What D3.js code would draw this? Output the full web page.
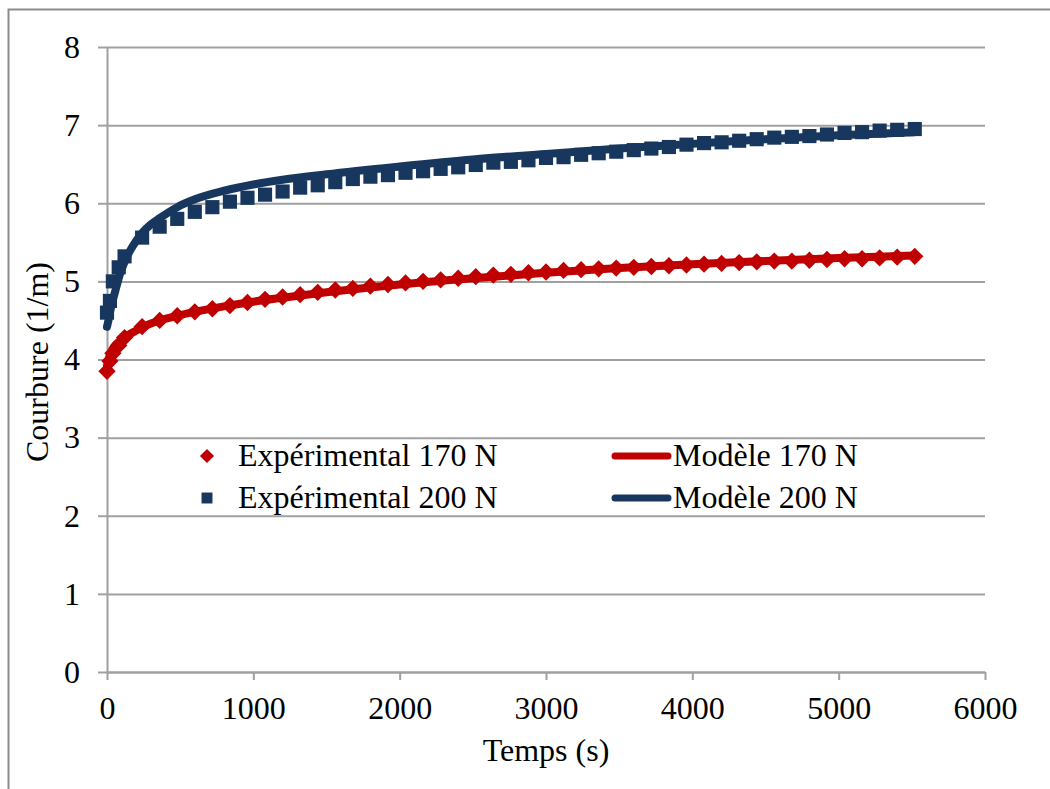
<!DOCTYPE html>
<html>
<head>
<meta charset="utf-8">
<script src="https://cdn.jsdelivr.net/npm/d3@7"></script>
<style>
  html, body { margin: 0; padding: 0; background: #fff; }
  svg { display: block; }
  text { font-family: "Liberation Serif", "Times New Roman", serif; fill: #000; }
</style>
</head>
<body>
<svg id="chart" width="1050" height="789"></svg>
<script>
// ---- data ----
const expTimes = [0, 20, 40, 80, 120, 240, 360, 480, 600, 720, 840, 960, 1080, 1200, 1320, 1440, 1560, 1680, 1800, 1920, 2040, 2160, 2280, 2400, 2520, 2640, 2760, 2880, 3000, 3120, 3240, 3360, 3480, 3600, 3720, 3840, 3960, 4080, 4200, 4320, 4440, 4560, 4680, 4800, 4920, 5040, 5160, 5280, 5400, 5520];
const exp170 = [3.85, 3.98, 4.08, 4.18, 4.28, 4.42, 4.50, 4.56, 4.61, 4.65, 4.69, 4.73, 4.77, 4.80, 4.83, 4.86, 4.89, 4.91, 4.94, 4.96, 4.98, 5.00, 5.02, 5.04, 5.06, 5.08, 5.09, 5.11, 5.12, 5.14, 5.15, 5.16, 5.17, 5.18, 5.19, 5.20, 5.21, 5.22, 5.23, 5.24, 5.25, 5.26, 5.26, 5.27, 5.28, 5.29, 5.29, 5.30, 5.31, 5.32];
const exp200 = [4.60, 4.75, 5.00, 5.18, 5.32, 5.56, 5.70, 5.80, 5.89, 5.95, 6.02, 6.07, 6.11, 6.15, 6.20, 6.23, 6.27, 6.31, 6.34, 6.36, 6.39, 6.41, 6.44, 6.46, 6.49, 6.52, 6.53, 6.55, 6.58, 6.59, 6.62, 6.64, 6.66, 6.68, 6.70, 6.72, 6.75, 6.77, 6.78, 6.80, 6.82, 6.84, 6.85, 6.86, 6.88, 6.90, 6.91, 6.93, 6.94, 6.95];
const modelTimes = [0, 10, 20, 40, 60, 90, 120, 160, 200, 240, 300, 360, 480, 600, 800, 1000, 1200, 1500, 2000, 2500, 3000, 3500, 4000, 4500, 5000, 5520];
const model170 = [3.92, 4.00, 4.06, 4.14, 4.19, 4.24, 4.28, 4.33, 4.37, 4.41, 4.46, 4.50, 4.56, 4.61, 4.68, 4.74, 4.79, 4.86, 4.96, 5.04, 5.11, 5.17, 5.22, 5.26, 5.30, 5.33];
const model200 = [4.42, 4.50, 4.60, 4.76, 4.90, 5.10, 5.25, 5.40, 5.52, 5.62, 5.73, 5.81, 5.95, 6.05, 6.16, 6.24, 6.30, 6.37, 6.47, 6.56, 6.63, 6.70, 6.76, 6.82, 6.87, 6.91];
const xTicks = [0, 1000, 2000, 3000, 4000, 5000, 6000];
const yTicks = [0, 1, 2, 3, 4, 5, 6, 7, 8];
const legendLabels = ["Expérimental 170 N", "Expérimental 200 N", "Modèle 170 N", "Modèle 200 N"];
const xTitle = "Temps (s)";
const yTitle = "Courbure (1/m)";

// ---- styles ----
const RED = "#C00000", BLUE = "#17375E", GRID = "#a0a0a0";
const FONT = 32;

const svg = d3.select("#chart");

// outer chart frame
svg.append("rect").attr("x", 8.5).attr("y", 9.5).attr("width", 1100).attr("height", 900)
  .attr("fill", "none").attr("stroke", "#8c8c8c").attr("stroke-width", 2);

const x = d3.scaleLinear().domain([0, 6000]).range([107, 985]);
const y = d3.scaleLinear().domain([0, 8]).range([672, 47]);

// gridlines
svg.append("g")
  .attr("transform", "translate(107,0)")
  .call(d3.axisLeft(y).tickValues(yTicks).tickSize(-878).tickFormat(""))
  .call(g => g.select(".domain").remove())
  .call(g => g.selectAll("line").attr("stroke", GRID).attr("stroke-width", 2));

// y axis
const yAxis = svg.append("g")
  .attr("transform", "translate(107,0)")
  .call(d3.axisLeft(y).tickValues(yTicks).tickSize(9).tickSizeOuter(0).tickPadding(18).tickFormat(d3.format("d")));
yAxis.select(".domain").attr("stroke", GRID).attr("stroke-width", 2);
yAxis.selectAll("line").attr("stroke", GRID).attr("stroke-width", 2);
yAxis.selectAll("text").style("font-size", FONT + "px").style("font-family", "Liberation Serif").attr("fill", "#000");

// x axis
const xAxis = svg.append("g")
  .attr("transform", "translate(0,672)")
  .call(d3.axisBottom(x).tickValues(xTicks).tickSize(8).tickSizeOuter(0).tickPadding(16).tickFormat(d3.format("d")));
xAxis.select(".domain").attr("stroke", GRID).attr("stroke-width", 2);
xAxis.selectAll("line").attr("stroke", GRID).attr("stroke-width", 2);
xAxis.selectAll("text").style("font-size", FONT + "px").style("font-family", "Liberation Serif").attr("fill", "#000");

// axis titles
svg.append("text").attr("x", 546).attr("y", 761).attr("text-anchor", "middle")
  .style("font-size", FONT + "px").text(xTitle);
svg.append("text").attr("transform", "translate(48,362) rotate(-90)").attr("text-anchor", "middle")
  .style("font-size", FONT + "px").text(yTitle);

// markers
const exp170Data = expTimes.map((t, i) => ({t, v: exp170[i]}));
const exp200Data = expTimes.map((t, i) => ({t, v: exp200[i]}));

svg.append("g").selectAll("path").data(exp170Data).join("path")
  .attr("d", d3.symbol().type(d3.symbolSquare).size(150))
  .attr("transform", d => `translate(${x(d.t)},${y(d.v)}) rotate(45)`)
  .attr("fill", RED);

svg.append("g").selectAll("path").data(exp200Data).join("path")
  .attr("d", d3.symbol().type(d3.symbolSquare).size(200))
  .attr("transform", d => `translate(${x(d.t)},${y(d.v)})`)
  .attr("fill", BLUE);

// model lines
const line = d3.line().x(d => x(d.t)).y(d => y(d.v)).curve(d3.curveMonotoneX);
const m170 = modelTimes.map((t, i) => ({t, v: model170[i]}));
const m200 = modelTimes.map((t, i) => ({t, v: model200[i]}));
svg.append("path").datum(m170).attr("d", line).attr("fill", "none")
  .attr("stroke", RED).attr("stroke-width", 8).attr("stroke-linecap", "round").attr("stroke-linejoin", "round");
svg.append("path").datum(m200).attr("d", line).attr("fill", "none")
  .attr("stroke", BLUE).attr("stroke-width", 8).attr("stroke-linecap", "round").attr("stroke-linejoin", "round");

// legend
const lg = svg.append("g");
const rows = [466, 508];
lg.append("path").attr("d", d3.symbol().type(d3.symbolSquare).size(100))
  .attr("transform", `translate(207,${rows[0] - 10}) rotate(45)`).attr("fill", RED);
lg.append("path").attr("d", d3.symbol().type(d3.symbolSquare).size(120))
  .attr("transform", `translate(207,${rows[1] - 10})`).attr("fill", BLUE);
lg.append("text").attr("x", 238).attr("y", rows[0]).style("font-size", FONT + "px").text(legendLabels[0]);
lg.append("text").attr("x", 238).attr("y", rows[1]).style("font-size", FONT + "px").text(legendLabels[1]);
lg.append("line").attr("x1", 615).attr("x2", 668).attr("y1", rows[0] - 10).attr("y2", rows[0] - 10)
  .attr("stroke", RED).attr("stroke-width", 7).attr("stroke-linecap", "round");
lg.append("line").attr("x1", 615).attr("x2", 668).attr("y1", rows[1] - 10).attr("y2", rows[1] - 10)
  .attr("stroke", BLUE).attr("stroke-width", 7).attr("stroke-linecap", "round");
lg.append("text").attr("x", 673).attr("y", rows[0]).style("font-size", FONT + "px").text(legendLabels[2]);
lg.append("text").attr("x", 673).attr("y", rows[1]).style("font-size", FONT + "px").text(legendLabels[3]);
</script>
</body>
</html>
